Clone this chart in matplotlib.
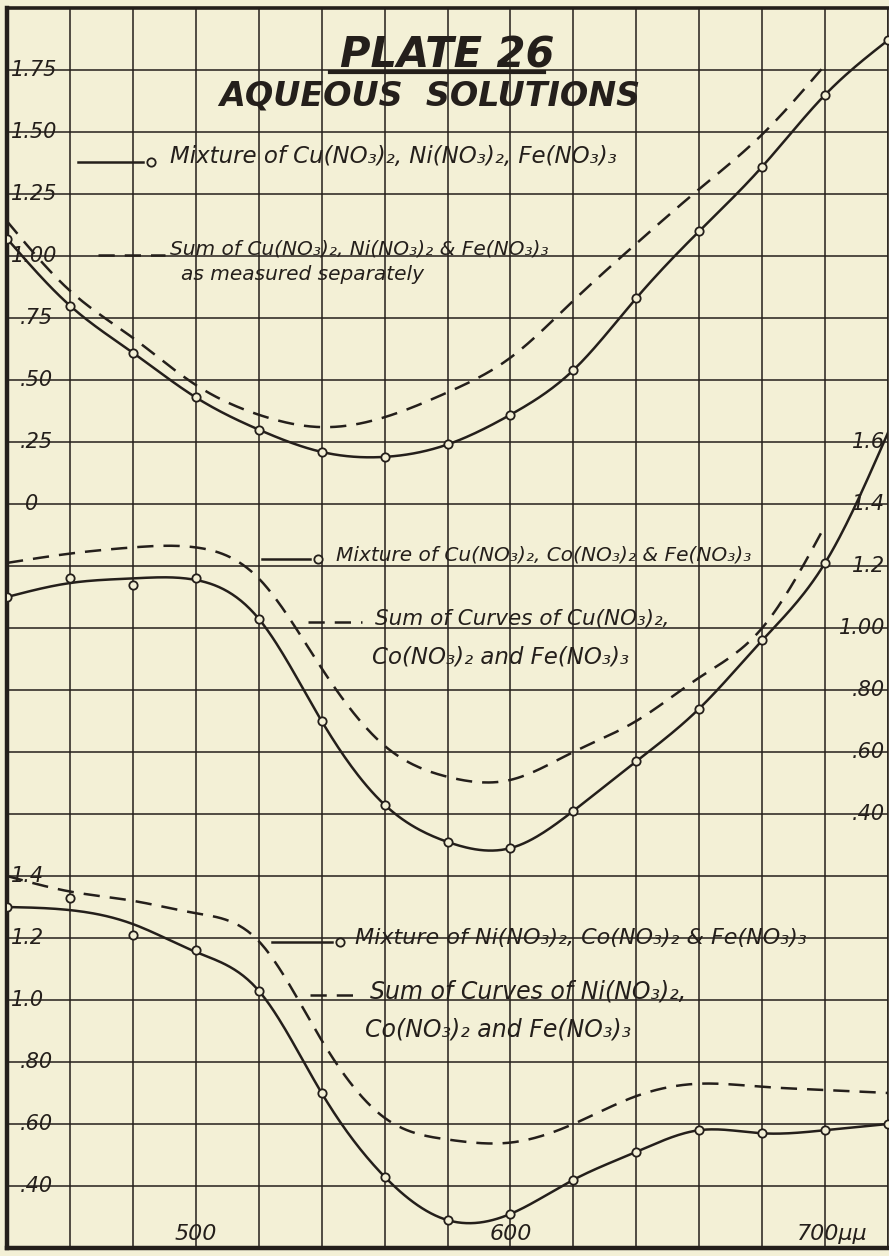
import numpy as np
import matplotlib
matplotlib.use('Agg')
import matplotlib.pyplot as plt
from matplotlib.transforms import blended_transform_factory

# wavelength in millimicrons, one reading every 20
wavelength = [440, 460, 480, 500, 520, 540, 560, 580, 600, 620, 640, 660, 680, 700, 720]

# top: Cu(NO3)2, Ni(NO3)2, Fe(NO3)3   (scale -3 .. 2)
top_mix = [1.07, 0.80, 0.61, 0.43, 0.30, 0.21, 0.19, 0.24, 0.36, 0.54, 0.83, 1.10, 1.36, 1.65, 1.87]
top_sum = [1.14, 0.86, 0.67, 0.48, 0.36, 0.31, 0.35, 0.45, 0.59, 0.82, 1.05, 1.27, 1.49, 1.77]

# middle: Cu(NO3)2, Co(NO3)2, Fe(NO3)3   (scale -1 .. 3)
mid_mix_pts = [1.10, 1.16, 1.14, 1.16, 1.03, 0.70, 0.43, 0.31, 0.29, 0.41, 0.57, 0.74, 0.96, 1.21]
mid_mix_curve = [1.10, 1.145, 1.16, 1.155, 1.03, 0.70, 0.43, 0.31, 0.29, 0.41, 0.57, 0.74, 0.96, 1.21, 1.63]
mid_sum = [1.21, 1.24, 1.26, 1.26, 1.16, 0.87, 0.62, 0.52, 0.51, 0.60, 0.70, 0.84, 1.00, 1.33]

# bottom: Ni(NO3)2, Co(NO3)2, Fe(NO3)3   (scale 0.2 .. 4.2)
bot_mix_pts = [1.30, 1.33, 1.21, 1.16, 1.03, 0.70, 0.43, 0.29, 0.31, 0.42, 0.51, 0.58, 0.57, 0.58, 0.60]
bot_mix_curve = [1.30, 1.29, 1.245, 1.155, 1.03, 0.70, 0.43, 0.29, 0.31, 0.42, 0.51, 0.58, 0.57, 0.58, 0.60]
bot_sum = [1.40, 1.35, 1.32, 1.28, 1.19, 0.87, 0.62, 0.55, 0.54, 0.60, 0.69, 0.73, 0.72, 0.71, 0.70]

top_ticks = [1.75, 1.50, 1.25, 1.00, 0.75, 0.50, 0.25, 0.0]
top_ticklabels = ['1.75', '1.50', '1.25', '1.00', '.75', '.50', '.25', '0']
mid_ticks = [1.6, 1.4, 1.2, 1.0, 0.8, 0.6, 0.4]
mid_ticklabels = ['1.6', '1.4', '1.2', '1.00', '.80', '.60', '.40']
bot_ticks = [1.4, 1.2, 1.0, 0.8, 0.6, 0.4]
bot_ticklabels = ['1.4', '1.2', '1.0', '.80', '.60', '.40']
x_ticks = [500, 600]
x_ticklabels = ['500', '600']

paper = '#f3f0d6'
ink = '#241f1b'


def spline(x, y, num=400):
    # natural cubic spline, just to draw the smooth hand curves
    x = np.asarray(x, float)
    y = np.asarray(y, float)
    n = len(x)
    h = np.diff(x)
    A = np.zeros((n, n))
    b = np.zeros(n)
    A[0, 0] = A[-1, -1] = 1.0
    for i in range(1, n - 1):
        A[i, i - 1] = h[i - 1]
        A[i, i] = 2 * (h[i - 1] + h[i])
        A[i, i + 1] = h[i]
        b[i] = 3 * ((y[i + 1] - y[i]) / h[i] - (y[i] - y[i - 1]) / h[i - 1])
    c = np.linalg.solve(A, b)
    xs = np.linspace(x[0], x[-1], num)
    k = np.clip(np.searchsorted(x, xs) - 1, 0, n - 2)
    dx = xs - x[k]
    bb = (y[k + 1] - y[k]) / h[k] - h[k] * (c[k + 1] + 2 * c[k]) / 3
    d = (c[k + 1] - c[k]) / (3 * h[k])
    return xs, y[k] + bb * dx + c[k] * dx ** 2 + d * dx ** 3


fig = plt.figure(figsize=(8.89, 12.56), dpi=100, facecolor=paper)
ax = fig.add_axes([7 / 889, 8 / 1256, 881 / 889, 1240 / 1256])
ax.set_facecolor(paper)
ax.set_xlim(440, 720)
ax.set_ylim(-3.0, 2.0)
ax.set_xticks(np.arange(440, 721, 20))
ax.set_yticks(np.arange(-3.0, 2.01, 0.25))
ax.grid(True, color=ink, lw=1.1)
ax.tick_params(length=0, labelleft=False, labelbottom=False)
for side, lw in [('left', 3.2), ('bottom', 3.2), ('top', 2.6), ('right', 1.1)]:
    ax.spines[side].set_linewidth(lw)
    ax.spines[side].set_color(ink)

ax_mid = ax.twinx()
ax_mid.set_ylim(-1.0, 3.0)
ax_bot = ax.twinx()
ax_bot.set_ylim(0.2, 4.2)
for a in (ax_mid, ax_bot):
    a.axis('off')

line_kw = dict(color=ink, lw=1.8)
dash_kw = dict(color=ink, lw=1.8, dashes=(6.5, 4))
mark_kw = dict(ls='none', marker='o', ms=6, mfc=paper, mec=ink, mew=1.3, zorder=5)

# top panel
ax.plot(*spline(wavelength, top_mix), **line_kw)
ax.plot(*spline(wavelength[:len(top_sum)], top_sum), **dash_kw)
ax.plot(wavelength, top_mix, **mark_kw)

# middle panel
ax_mid.plot(*spline(wavelength, mid_mix_curve), **line_kw)
ax_mid.plot(*spline(wavelength[:len(mid_sum)], mid_sum), **dash_kw)
ax_mid.plot(wavelength[:len(mid_mix_pts)], mid_mix_pts, **mark_kw)

# bottom panel
ax_bot.plot(*spline(wavelength, bot_mix_curve), **line_kw)
ax_bot.plot(*spline(wavelength, bot_sum), **dash_kw)
ax_bot.plot(wavelength, bot_mix_pts, **mark_kw)

# scale numbers written on the grid
lab_kw = dict(fontsize=15, style='italic', color=ink, va='center')
tr = blended_transform_factory(ax.transAxes, ax.transData)
for v, s in zip(top_ticks, top_ticklabels):
    x0 = 0.004 if s.startswith('1') else (0.02 if s == '0' else 0.014)
    ax.text(x0, v, s, transform=tr, ha='left', **lab_kw)
tr = blended_transform_factory(ax.transAxes, ax_mid.transData)
for v, s in zip(mid_ticks, mid_ticklabels):
    ax_mid.text(0.997, v, s, transform=tr, ha='right', **lab_kw)
tr = blended_transform_factory(ax.transAxes, ax_bot.transData)
for v, s in zip(bot_ticks, bot_ticklabels):
    x0 = 0.004 if s.startswith('1') else 0.014
    ax_bot.text(x0, v, s, transform=tr, ha='left', **lab_kw)
tr = blended_transform_factory(ax.transData, ax.transAxes)
for v, s in zip(x_ticks, x_ticklabels):
    ax.text(v, 0.003, s, transform=tr, ha='center', va='bottom', fontsize=16, style='italic', color=ink)
ax.text(691, 0.003, '700μμ', transform=tr, ha='left', va='bottom', fontsize=16, style='italic', color=ink)

# title
ax.text(0.5, 0.962, 'PLATE 26', transform=ax.transAxes, ha='center', va='center',
        fontsize=30, weight='heavy', style='italic', color=ink)
ax.plot([0.367, 0.61], [0.9485, 0.9485], transform=ax.transAxes, color=ink, lw=3)
ax.text(0.48, 0.929, 'AQUEOUS  SOLUTIONS', transform=ax.transAxes, ha='center', va='center',
        fontsize=24, weight='heavy', style='italic', color=ink)

# hand written keys
txt_kw = dict(transform=ax.transAxes, style='italic', color=ink, va='center', ha='left')


def key(x0, x1, y, dashed=False, marker=False):
    kw = dash_kw if dashed else line_kw
    ax.plot([x0, x1], [y, y], transform=ax.transAxes, **kw)
    if marker:
        ax.plot([x1 + 0.009], [y], transform=ax.transAxes, **mark_kw)


key(0.081, 0.154, 0.876, marker=True)
ax.text(0.185, 0.880, 'Mixture of Cu(NO₃)₂, Ni(NO₃)₂, Fe(NO₃)₃', fontsize=16.5, **txt_kw)
key(0.103, 0.179, 0.801, dashed=True)
ax.text(0.185, 0.806, 'Sum of Cu(NO₃)₂, Ni(NO₃)₂ & Fe(NO₃)₃', fontsize=14.5, **txt_kw)
ax.text(0.197, 0.785, 'as measured separately', fontsize=14.5, **txt_kw)

key(0.289, 0.344, 0.556, marker=True)
ax.text(0.373, 0.559, 'Mixture of Cu(NO₃)₂, Co(NO₃)₂ & Fe(NO₃)₃', fontsize=14.5, **txt_kw)
key(0.342, 0.403, 0.505, dashed=True)
ax.text(0.418, 0.507, 'Sum of Curves of Cu(NO₃)₂,', fontsize=15.5, **txt_kw)
ax.text(0.414, 0.477, 'Co(NO₃)₂ and Fe(NO₃)₃', fontsize=16.5, **txt_kw)

key(0.301, 0.369, 0.247, marker=True)
ax.text(0.395, 0.250, 'Mixture of Ni(NO₃)₂, Co(NO₃)₂ & Fe(NO₃)₃', fontsize=16, **txt_kw)
key(0.344, 0.401, 0.204, dashed=True)
ax.text(0.412, 0.207, 'Sum of Curves of Ni(NO₃)₂,', fontsize=17, **txt_kw)
ax.text(0.406, 0.176, 'Co(NO₃)₂ and Fe(NO₃)₃', fontsize=17, **txt_kw)

fig.savefig('out.png', dpi=100, facecolor=paper)
